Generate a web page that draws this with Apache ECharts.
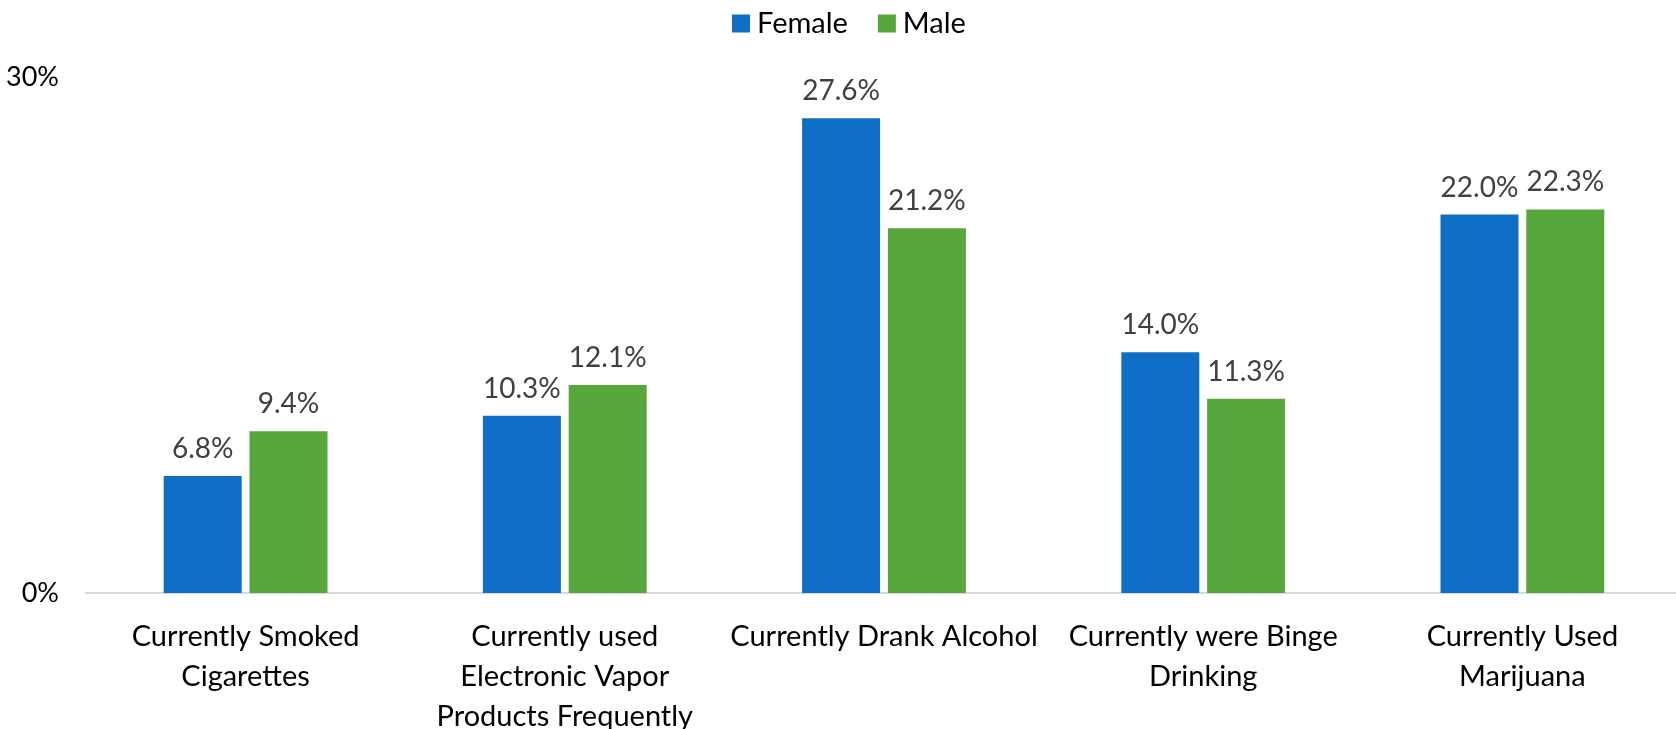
<!DOCTYPE html>
<html>
<head>
<meta charset="utf-8">
<script src="https://cdn.jsdelivr.net/npm/echarts@6/dist/echarts.min.js"></script>
<style>
  html, body { margin: 0; padding: 0; background: #fff; }
  #chart { width: 1676px; height: 729px; }
</style>
</head>
<body>
<div id="chart"></div>
<script>
  // categories and values
  var categories = [
    'Currently Smoked\nCigarettes',
    'Currently used\nElectronic Vapor\nProducts Frequently',
    'Currently Drank Alcohol',
    'Currently were Binge\nDrinking',
    'Currently Used\nMarijuana'
  ];
  var femaleValues = [6.8, 10.3, 27.6, 14.0, 22.0];
  var maleValues = [9.4, 12.1, 21.2, 11.3, 22.3];
  var yTicks = [0, 30];

  var FONT = 'Lato';

  var chart = echarts.init(document.getElementById('chart'));

  // label shown on top of each bar
  function barLabel() {
    return {
      show: true,
      position: 'top',
      distance: 13,
      color: '#404040',
      fontFamily: FONT,
      fontSize: 28,
      formatter: function (p) { return p.value.toFixed(1) + '%'; }
    };
  }

  chart.setOption({
    animation: false,
    textStyle: { fontFamily: FONT },
    legend: {
      top: 4,
      left: 727,
      itemWidth: 18,
      itemHeight: 18,
      itemGap: 30,
      icon: 'rect',
      textStyle: { fontFamily: FONT, fontSize: 29, color: '#000', padding: [0, 0, 0, 2] },
      data: ['Female', 'Male']
    },
    grid: {
      left: 86,
      right: -6,
      top: 77,
      bottom: 136,
      containLabel: false,
      outerBoundsMode: 'none'
    },
    xAxis: {
      type: 'category',
      data: categories,
      axisLine: { show: true, lineStyle: { color: '#d9d9d9', width: 2 } },
      axisTick: { show: false },
      axisLabel: {
        interval: 0,
        margin: 24,
        color: '#000',
        fontFamily: FONT,
        fontSize: 29,
        lineHeight: 40
      }
    },
    yAxis: {
      type: 'value',
      min: yTicks[0],
      max: yTicks[1],
      interval: yTicks[1] - yTicks[0],
      splitLine: { show: false },
      axisLine: { show: false },
      axisTick: { show: false },
      axisLabel: {
        margin: 27,
        color: '#000',
        fontFamily: FONT,
        fontSize: 27,
        formatter: '{value}%'
      }
    },
    series: [
      {
        name: 'Female',
        type: 'bar',
        data: femaleValues,
        barWidth: 78,
        barGap: '10%',
        itemStyle: { color: '#0F6FC6' },
        label: barLabel()
      },
      {
        name: 'Male',
        type: 'bar',
        data: maleValues,
        barWidth: 78,
        itemStyle: { color: '#58A73C' },
        label: barLabel()
      }
    ]
  });
</script>
</body>
</html>
